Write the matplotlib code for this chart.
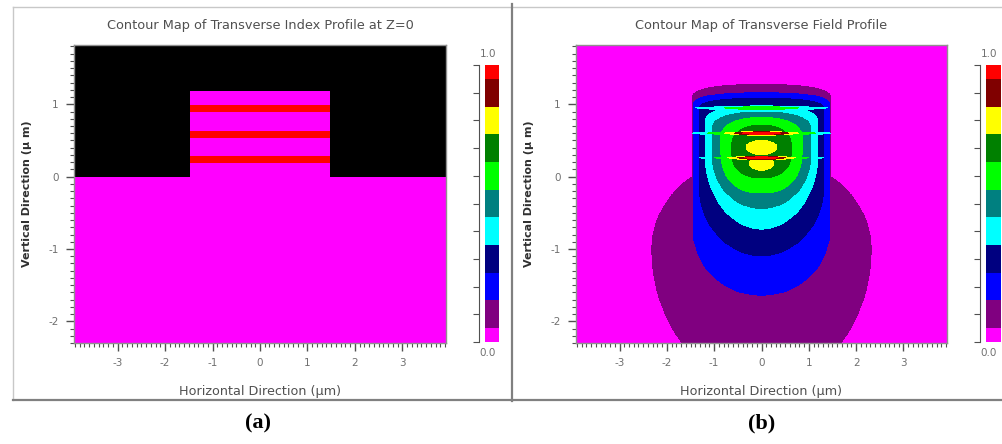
import numpy as np
import matplotlib
matplotlib.use("Agg")
from matplotlib import pyplot as plt
from matplotlib.colors import ListedColormap, BoundaryNorm
from matplotlib.ticker import MultipleLocator
from matplotlib.lines import Line2D

plt.rcParams['axes.unicode_minus'] = False

#%% Data
# colour scale, 0.0 .. 1.0 in steps of 0.1
levels = np.round(np.arange(0, 1.01, 0.1), 1)
level_colors = ['#ff00ff', '#800080', '#0000ff', '#000080', '#00ffff', '#008080',
                '#00ff00', '#008000', '#ffff00', '#800000', '#ff0000']

x_lim = (-3.92, 3.92)
y_lim = (-2.30, 1.82)
x_ticks = [-3, -2, -1, 0, 1, 2, 3]
y_ticks = [-2, -1, 0, 1]

# (a) index profile : ridge with three high index wells
ridge_half_width = 1.47
ridge_top = 1.19
well_centres = [0.94, 0.59, 0.24]
well_half_thickness = 0.05

# (b) field contours, one closed region per level (outer first)
# |x| < w between y_lo and y_hi, rounded cap up to top and down to bottom
reg_level  = [0.1,   0.1,   0.2,   0.3,   0.4,   0.5,   0.6,   0.7,   0.8,  0.8]
reg_w      = [2.33,  1.47,  1.45,  1.33,  1.20,  1.06,  0.87,  0.64,  0.34, 0.27]
reg_top    = [0.30,  1.28,  1.17,  1.09,  0.99,  0.90,  0.83,  0.72,  0.51, 0.26]
reg_y_hi   = [-1.00, 1.10,  1.00,  0.95,  0.75,  0.65,  0.55,  0.45,  0.41, 0.19]
reg_y_lo   = [-1.00, -0.50, -0.75, -0.13, 0.30,  0.30,  0.40,  0.35,  0.41, 0.19]
reg_bottom = [-2.90, -0.60, -1.65, -1.10, -0.73, -0.45, -0.23, -0.02, 0.30, 0.08]
reg_p_top  = [2.0,   2.5,   2.5,   2.5,   2.5,   2.5,   2.2,   2.2,   2.0,  2.0]
reg_p_bot  = [2.0,   2.0,   2.0,   2.0,   2.0,   2.0,   2.5,   2.5,   2.0,  2.0]

# thin bright streaks of the field inside the wells
lens_y          = [0.95, 0.95, 0.60, 0.60, 0.60, 0.60, 0.60, 0.26, 0.26, 0.26, 0.26, 0.26]
lens_level      = [0.4,  0.6,  0.4,  0.6,  0.8,  0.9,  1.0,  0.4,  0.6,  0.8,  0.9,  1.0]
lens_half_len   = [1.42, 0.80, 1.47, 1.15, 0.80, 0.58, 0.42, 1.32, 1.02, 0.72, 0.52, 0.36]
lens_half_thick = [0.035, 0.028, 0.040, 0.037, 0.034, 0.030, 0.024,
                   0.040, 0.037, 0.034, 0.030, 0.024]

#%% Grids
xs = np.linspace(x_lim[0], x_lim[1], 720)
ys = np.linspace(y_lim[0], y_lim[1], 620)
X, Y = np.meshgrid(xs, ys)
air = (Y > 0) & (np.abs(X) > ridge_half_width)

index = np.zeros_like(X)
index[air | (Y > ridge_top)] = -1
for c in well_centres:
    index[(np.abs(Y - c) < well_half_thickness) & (np.abs(X) < ridge_half_width)] = 1.0

def region(w, top, y_hi, y_lo, bottom, p_top, p_bot):
    u = np.abs(X) / w
    mid = (u <= 1) & (Y <= y_hi) & (Y >= y_lo)
    up = (Y > y_hi) & (u**p_top + (np.abs(Y - y_hi) / (top - y_hi))**p_top <= 1)
    dn = (Y < y_lo) & (u**p_bot + (np.abs(Y - y_lo) / (y_lo - bottom))**p_bot <= 1)
    return mid | up | dn

field = np.zeros_like(X)
for i in range(len(reg_level)):
    m = region(reg_w[i], reg_top[i], reg_y_hi[i], reg_y_lo[i], reg_bottom[i],
               reg_p_top[i], reg_p_bot[i])
    field[m] = np.maximum(field[m], reg_level[i])
for i in range(len(lens_level)):
    s = np.clip(1 - (X / lens_half_len[i])**2, 0, None)
    m = np.abs(Y - lens_y[i]) < lens_half_thick[i] * np.sqrt(s)
    field[m] = np.maximum(field[m], lens_level[i])
field[air] = 0

cmap = ListedColormap(level_colors)
cmap.set_under('black')
bounds = np.concatenate([[-0.05], levels + 0.05])
norm = BoundaryNorm(bounds, cmap.N)

#%% Figure
fig = plt.figure(figsize=(10.03, 4.44), dpi=100)
W, H = 1003.0, 444.0

def px_axes(x0, y0, x1, y1):
    return fig.add_axes([x0 / W, 1 - y1 / H, (x1 - x0) / W, (y1 - y0) / H])

def style(ax, title):
    ax.set_xlim(x_lim)
    ax.set_ylim(y_lim)
    ax.set_xticks(x_ticks)
    ax.set_yticks(y_ticks)
    ax.xaxis.set_minor_locator(MultipleLocator(0.1))
    ax.yaxis.set_minor_locator(MultipleLocator(0.1))
    ax.tick_params(which='major', length=6, width=1, color='#505050',
                   labelcolor='#707070', labelsize=7.5, pad=5)
    ax.tick_params(which='minor', length=3, width=0.8, color='#505050')
    for s in ax.spines.values():
        s.set_color('#909090')
        s.set_linewidth(1)
    ax.text(0.5, 1.067, title, transform=ax.transAxes, ha='center', va='center',
            fontsize=9.3, color='#505050')
    ax.set_xlabel('Horizontal Direction (µm)', fontsize=9.2, color='#505050')
    ax.set_ylabel('Vertical Direction (μ m)', fontsize=8, color='#303030',
                  fontweight='bold')
    ax.yaxis.set_label_coords(-0.113, 0.5)
    ax.xaxis.set_label_coords(0.5, -0.14)

def scale_bar(cax):
    edges = np.concatenate([[0], levels[:-1] + 0.05, [1.0]])
    cax.pcolormesh([0, 1], edges, levels.reshape(-1, 1), cmap=cmap, norm=norm)
    cax.set_xlim(0, 1)
    cax.set_ylim(0, 1)
    cax.set_xticks([])
    cax.set_yticks(levels)
    cax.set_yticklabels([])
    for k in ['top', 'right', 'bottom']:
        cax.spines[k].set_visible(False)
    cax.spines['left'].set_position(('outward', 4.3))
    cax.spines['left'].set_color('#505050')
    cax.tick_params(axis='y', length=4, width=0.8, color='#505050')
    cax.text(0.2, 1.04, '1.0', transform=cax.transAxes, ha='center', va='center',
             fontsize=7.5, color='#707070')
    cax.text(0.2, -0.04, '0.0', transform=cax.transAxes, ha='center', va='center',
             fontsize=7.5, color='#707070')

# panel (a)
ax1 = px_axes(74, 45, 446, 343)
ax1.imshow(index, extent=[*x_lim, *y_lim], origin='lower', aspect='auto',
           interpolation='nearest', cmap=cmap, norm=norm)
style(ax1, 'Contour Map of Transverse Index Profile at Z=0')
scale_bar(px_axes(485, 65, 499, 342))

# panel (b)
ax2 = px_axes(576, 45, 947, 343)
ax2.imshow(field, extent=[*x_lim, *y_lim], origin='lower', aspect='auto',
           interpolation='nearest', cmap=cmap, norm=norm)
style(ax2, 'Contour Map of Transverse Field Profile')
scale_bar(px_axes(986, 65, 1001, 342))

# panel frames
def fline(xa, ya, xb, yb, c, lw):
    fig.add_artist(Line2D([xa / W, xb / W], [1 - ya / H, 1 - yb / H],
                          color=c, linewidth=lw))

fline(13, 7, 13, 400, '#c8c8c8', 1)
fline(13, 7, 511, 7, '#c8c8c8', 1)
fline(513, 7, 1003, 7, '#c8c8c8', 1)
fline(512, 4, 512, 401, '#808080', 1.6)
fline(13, 400, 1003, 400, '#808080', 1.6)

fig.text(258 / W, 1 - 423 / H, '(a)', ha='center', va='center', fontsize=16,
         fontweight='bold', family='Liberation Serif')
fig.text(762 / W, 1 - 423 / H, '(b)', ha='center', va='center', fontsize=16,
         fontweight='bold', family='Liberation Serif')

fig.savefig('out.png', dpi=100)
